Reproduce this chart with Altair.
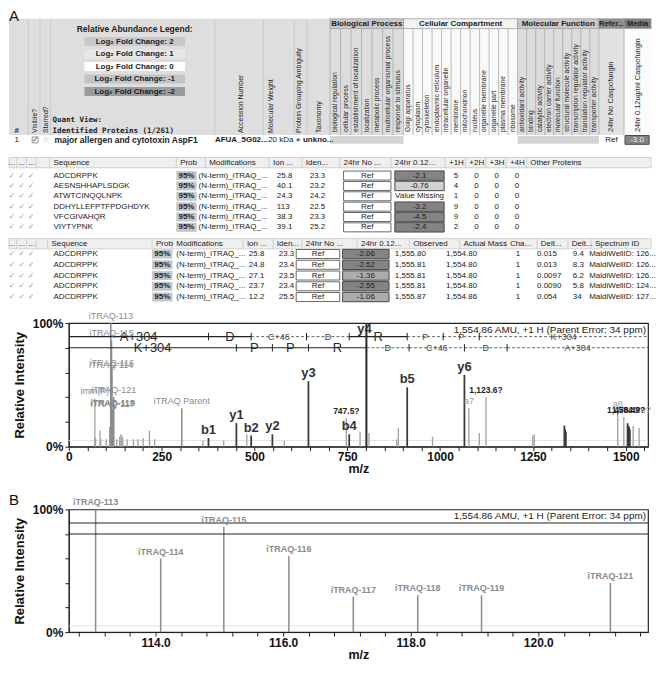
import altair as alt
import pandas as pd

FONT = "Liberation Sans"
SYM = "DejaVu Sans"

# ======================= DATA =======================
PANEL_A = "A"
PANEL_B = "B"
LEGEND_TITLE = "Relative Abundance Legend:"
LEGEND_LABELS = ["Log₂ Fold Change: 2", "Log₂ Fold Change: 1", "Log₂ Fold Change: 0",
                 "Log₂ Fold Change: -1", "Log₂ Fold Change: -2"]
QUANT_VIEW = ["Quant View:", "Identified Proteins (1/261)"]
LEFT_COLS = ["Visible?", "Starred?", "Accession Number", "Molecular Weight",
             "Protein Grouping Ambiguity", "Taxonomy"]
CATEGORIES = ["Biological Process", "Cellular Compartment", "Molecular Function", "Refer...", "Media"]
BP_TERMS = ["biological regulation", "cellular process", "establishment of localization",
            "localization", "metabolic process", "multicellular organismal process",
            "response to stimulus"]
CC_TERMS = ["Golgi apparatus", "cytoplasm", "cytoskeleton", "endoplasmic reticulum",
            "intracellular organelle", "membrane", "mitochondrion", "nucleus",
            "organelle membrane", "organelle part", "plasma membrane", "ribosome"]
MF_TERMS = ["antioxidant activity", "binding", "catalytic activity", "electron carrier activity",
            "molecular function", "structural molecule activity",
            "transcription regulator activity", "translation regulator activity",
            "transporter activity"]
SAMPLES = ["24hr No Caspofungin", "24hr 0.12ug/ml Caspofungin"]
PROTEIN_ROW = ["1", "major allergen and cytotoxin AspF1", "AFUA_5G02...", "20 kDa", "unkno...", "Ref"]
PROTEIN_RATIO = [-3.0]
PROTEIN_RATIO_TEXT = ["-3.0"]

PEP_HEADERS = ["...", "...", "...", "Sequence", "Prob", "Modifications", "Ion ...", "Iden...",
               "24hr No ...", "24hr 0.12...", "+1H", "+2H", "+3H", "+4H", "Other Proteins"]
PEP_SEQ = ["ADCDRPPK", "AESNSHHAPLSDGK", "ATWTCINQQLNPK", "DDHYLLEFPTFPDGHDYK", "VFCGIVAHQR", "VIYTYPNK"]
PEP_PROB = ["95%", "95%", "95%", "95%", "95%", "95%"]
PEP_MOD = ["(N-term)_iTRAQ_..."] * 6
PEP_ION = ["25.8", "40.1", "24.3", "113", "38.3", "39.1"]
PEP_IDEN = ["23.3", "23.2", "24.2", "22.5", "23.3", "25.2"]
PEP_REF = ["Ref"] * 6
PEP_RATIO = [-2.1, -0.76, None, -3.2, -4.5, -2.4]
PEP_RATIO_TEXT = ["-2.1", "-0.76", "Value Missing", "-3.2", "-4.5", "-2.4"]
PEP_1H = ["5", "4", "1", "9", "9", "2"]
PEP_2H = ["0", "0", "0", "0", "0", "0"]
PEP_3H = ["0", "0", "0", "0", "0", "0"]
PEP_4H = ["0", "0", "0", "0", "0", "0"]

SPEC_HEADERS = ["...", "...", "...", "Sequence", "Prob", "Modifications", "Ion ...", "Iden...",
                "24hr No ...", "24hr 0.12...", "Observed", "Actual Mass", "Cha...", "Delt...",
                "Delt...", "Spectrum ID"]
SPEC_SEQ = ["ADCDRPPK"] * 5
SPEC_PROB = ["95%"] * 5
SPEC_MOD = ["(N-term)_iTRAQ_..."] * 5
SPEC_ION = ["25.8", "24.8", "27.1", "23.7", "12.2"]
SPEC_IDEN = ["23.3", "23.4", "23.5", "23.4", "25.5"]
SPEC_REF = ["Ref"] * 5
SPEC_RATIO = [-2.06, -2.52, -1.36, -2.55, -1.06]
SPEC_RATIO_TEXT = ["-2.06", "-2.52", "-1.36", "-2.55", "-1.06"]
SPEC_OBS = ["1,555.80", "1,555.81", "1,555.81", "1,555.81", "1,555.87"]
SPEC_ACT = ["1,554.80", "1,554.80", "1,554.80", "1,554.80", "1,554.86"]
SPEC_CHARGE = ["1", "1", "1", "1", "1"]
SPEC_DELTA = ["0.015", "0.013", "0.0097", "0.0090", "0.054"]
SPEC_PPM = ["9.4", "8.3", "6.2", "5.8", "34"]
SPEC_ID = ["MaldiWellID: 126...", "MaldiWellID: 126...", "MaldiWellID: 126...",
           "MaldiWellID: 124...", "MaldiWellID: 127..."]

# ---- Spectrum A (full MS/MS spectrum) ----
A_MZ = [70.1, 72.0, 84.0, 86.1, 101.1, 110.1, 113.06, 114.08, 115.07, 116.09, 117.10, 118.11,
        119.11, 121.13, 129.1, 137.0, 140.1, 143.1, 145.1, 157.1, 174.1, 186.1, 200.1, 217.1,
        231.1, 304.2, 361.2, 376.2, 417.2, 451.3, 479.3, 491.2, 548.3, 580.3, 645.4, 747.5,
        755.3, 784.4, 801.5, 808.4, 883.4, 887.5, 911.4, 979.5, 1065.5, 1077.5, 1105.5, 1123.6,
        1249.6, 1253.6, 1334.7, 1336.7, 1338.7, 1478.4, 1494.8, 1504.9, 1507.0, 1509.0, 1511.0,
        1520.0, 1536.0]
A_INT = [0.39, 0.07, 0.13, 0.06, 0.06, 0.16, 1.00, 0.60, 0.86, 0.62, 0.29, 0.30,
         0.30, 0.40, 0.06, 0.08, 0.10, 0.09, 0.07, 0.06, 0.06, 0.06, 0.07, 0.13,
         0.06, 0.31, 0.05, 0.07, 0.05, 0.19, 0.10, 0.09, 0.10, 0.05, 0.53, 0.23,
         0.10, 0.12, 1.00, 0.11, 0.06, 0.15, 0.48, 0.08, 0.58, 0.31, 0.11, 0.40,
         0.09, 0.10, 0.17, 0.14, 0.12, 0.29, 0.24, 0.19, 0.17, 0.16, 0.14,
         0.17, 0.15]
A_KIND = ["other", "other", "other", "other", "other", "other", "rep", "rep", "rep", "rep", "rep", "rep",
          "rep", "rep", "other", "other", "other", "other", "other", "other", "other", "other", "other", "other",
          "other", "rep", "other", "ion", "other", "ion", "other", "ion", "ion", "other", "ion", "other",
          "ion", "other", "base", "other", "other", "other", "ion", "other", "ion", "other", "other", "other",
          "other", "other", "ion", "ion", "ion", "other", "other", "ion", "ion", "ion", "ion",
          "other", "other"]

LA_MZ = [113.06, 115.07, 114.08, 116.09, 121.13, 70.1, 117.10, 118.11, 119.11, 304.2,
         376.2, 451.3, 491.2, 548.3, 645.4, 747.5, 755.3, 801.5, 911.4, 1065.5, 1077.5, 1123.6,
         1478.4, 1494.8, 1507.0, 1520.0]
LA_INT = [1.00, 0.86, 0.60, 0.62, 0.40, 0.39, 0.29, 0.30, 0.30, 0.31,
          0.07, 0.19, 0.09, 0.10, 0.53, 0.23, 0.10, 1.00, 0.48, 0.58, 0.31, 0.40,
          0.29, 0.24, 0.24, 0.24]
LA_TEXT = ["iTRAQ-113", "iTRAQ-115", "iTRAQ-114", "iTRAQ-116", "iTRAQ-121", "imm(P)", "iTRAQ-117",
           "iTRAQ-118", "iTRAQ-119", "iTRAQ Parent",
           "b1", "y1", "b2", "y2", "y3", "747.5?", "b4", "y4", "b5", "y6", "a7", "1,123.6?",
           "a8", "1,478.4?", "1,504.9?", "1,520.0?"]
LA_STYLE = ["rep", "rep", "rep", "rep", "rep", "rep", "rep", "rep", "rep", "rep",
            "ion", "ion", "ion", "ion", "ion", "q", "ion", "iontop", "ion", "ion", "minor", "q",
            "minor", "q", "q", "minor"]

PARENT_TEXT = "1,554.86 AMU, +1 H (Parent Error: 34 ppm)"
# b-ion ladder (row 1) and y-ion ladder (row 2): m/z boundaries and residues
B_START = [0, 376.2, 491.2, 640.2, 755.3, 911.4, 1008.4, 1105.5]
B_END = [376.2, 491.2, 640.2, 755.3, 911.4, 1008.4, 1105.5, 1560]
B_RES = ["A+304", "D", "C+46", "D", "R", "P", "P", "K+304"]
B_SEEN = [True, True, False, False, True, False, False, False]
Y_START = [0, 451.3, 548.3, 645.4, 801.5, 916.5, 1065.5, 1180.5]
Y_END = [451.3, 548.3, 645.4, 801.5, 916.5, 1065.5, 1180.5, 1560]
Y_RES = ["K+304", "P", "P", "R", "D", "C+46", "D", "A+304"]
Y_SEEN = [True, True, True, True, False, False, False, False]

# ---- Spectrum B (iTRAQ reporter region) ----
B_MZ = [113.06, 114.08, 115.07, 116.09, 117.10, 118.11, 119.11, 121.13]
B_INT = [1.00, 0.60, 0.86, 0.62, 0.29, 0.30, 0.30, 0.40]
B_LABEL = ["iTRAQ-113", "iTRAQ-114", "iTRAQ-115", "iTRAQ-116", "iTRAQ-117", "iTRAQ-118",
           "iTRAQ-119", "iTRAQ-121"]

# ======================= TABLE (top of panel A) =======================
W = 581
H_TABLE = 252
H_A = 124
H_B = 123
GAP = 63
XS = alt.Scale(domain=[61.86, 660.82], nice=False, zero=False)
YS = alt.Scale(domain=[3, 3 + H_TABLE / 0.98], nice=False, zero=False, reverse=True)

texts, rects, rules, ratios = [], [], [], []


def T(x, y, t, size=8, color="#222", weight="normal", align="left", angle=0, font=FONT,
      baseline="middle"):
    texts.append(dict(x=x, y=y, t=t, size=size, color=color, weight=weight, align=align,
                      angle=angle, font=font, baseline=baseline))


def R(x, x2, y, y2, fill, stroke="transparent"):
    rects.append(dict(x=x, x2=x2, y=y, y2=y2, fill=fill, stroke=stroke))


def L(x, x2, y, y2, color="#c0c0c0"):
    rules.append(dict(x=x, x2=x2, y=y, y2=y2, color=color))


T(0, 3, PANEL_A, size=15, color="#111", baseline="top")

# --- protein header block ---
R(0, 332, 13, 132, "#dedede")
for xx in [20, 32, 43, 213, 263, 295, 308]:
    L(xx, xx, 13, 132, "#c4c4c4")
T(130, 23.5, LEGEND_TITLE, size=8.5, weight="bold", align="center")
legend_fill = ["#c9c9c9", "#e8e8e8", "#ffffff", "#c4c4c4", "#9b9b9b"]
for i, lab in enumerate(LEGEND_LABELS):
    cy = 36.3 + 12.8 * i
    R(78, 182, cy - 4.6, cy + 4.6, legend_fill[i])
    T(130, cy, lab, size=8, weight="bold", align="center")
T(8, 128, "#", weight="bold", align="center")
T(45, 117, QUANT_VIEW[0], size=7.5, weight="bold", font="DejaVu Sans Mono")
T(45, 127.5, QUANT_VIEW[1], size=7.5, weight="bold", font="DejaVu Sans Mono")
for xx, lab in zip([26.5, 38, 240, 271, 300, 321], LEFT_COLS):
    T(xx, 130, lab, size=7, angle=270)

cat_x = [(332, 408), (408, 526), (526, 610), (610, 636), (636, 664)]
cat_fill = ["#c8c8c8", "#f3f3f3", "#c8c8c8", "#8e8e8e", "#7e7e7e"]
body_fill = ["#dcdcdc", "#f9f9f9", "#dcdcdc", "#e2e2e2", "#fbfbfb"]
cat_size = [8, 8, 8, 7.5, 7.5]
for (x0, x1), name, cf, bf, cs in zip(cat_x, CATEGORIES, cat_fill, body_fill, cat_size):
    R(x0, x1, 23, 132, bf)
    R(x0, x1, 13, 23, cf, "#a0a0a0")
    T((x0 + x1) / 2, 18, name, size=cs, weight="bold", align="center")
for (x0, x1), terms in zip(cat_x[:3], [BP_TERMS, CC_TERMS, MF_TERMS]):
    w = (x1 - x0) / len(terms)
    for i, term in enumerate(terms):
        L(x0 + w * i, x0 + w * i, 23, 132, "#a8a8a8")
        T(x0 + w * (i + 0.5), 129, term, size=6.8, angle=270)
L(610, 610, 23, 132, "#a8a8a8")
L(636, 636, 23, 132, "#a8a8a8")
T(623, 129, SAMPLES[0], size=7.5, angle=270)
T(650, 129, SAMPLES[1], size=7.5, angle=270)

# protein row
T(8, 137, PROTEIN_ROW[0], align="center")
R(24, 30, 134, 140, "#ffffff", "#777777")
T(27, 137, "✓", size=7, color="#333", align="center", font=SYM)
T(38, 137, "☆", size=8, color="#aaa", align="center", font=SYM)
T(47, 137, PROTEIN_ROW[1], size=8.5, weight="bold")
T(213, 137, PROTEIN_ROW[2], weight="bold")
T(268, 137, PROTEIN_ROW[3])
T(299, 137, "★", size=7, color="#666", align="center", font=SYM)
T(304, 137, PROTEIN_ROW[4], weight="bold")
R(332, 408, 133, 141, "#d4d4d4")
R(526, 610, 133, 141, "#d4d4d4")
T(623, 137, PROTEIN_ROW[5], align="center")
ratios.append(dict(x=637, x2=662, y=132.5, y2=141.5, v=PROTEIN_RATIO[0]))
T(649.5, 137, PROTEIN_RATIO_TEXT[0], color="#f0f0f0", align="center")

# --- peptide table ---
p_hx = [3, 13, 23, 46, 177, 207, 273, 307, 346, 399, 455, 476, 497, 518, 539]
R(0, 664, 155, 165.5, "#efefef", "#c8c8c8")
for xx, lab in zip(p_hx, PEP_HEADERS):
    T(xx, 160.3, lab, align="center" if lab == "..." else "left")
    if lab != "...":
        L(xx - 4, xx - 4, 155, 165.5, "#c8c8c8")
for xx in [8, 18, 28]:
    L(xx, xx, 155, 165.5, "#c8c8c8")
PEP_Y = [173.5, 184.1, 194.7, 205.3, 215.9, 226.5]
for i, yy in enumerate(PEP_Y):
    for xx in [3, 13, 23]:
        T(xx, yy, "✓", size=7.5, color="#9a9a9a", align="center", font=SYM)
    T(46, yy, PEP_SEQ[i])
    R(173, 194, yy - 4.6, yy + 4.6, "#c6c6c6")
    T(183.5, yy, PEP_PROB[i], weight="bold", align="center")
    T(196, yy, PEP_MOD[i])
    T(277, yy, PEP_ION[i])
    T(311, yy, PEP_IDEN[i])
    R(346, 395, yy - 4.6, yy + 4.6, "#ffffff", "#444444")
    T(370.5, yy, PEP_REF[i], align="center")
    ratios.append(dict(x=399, x2=450, y=yy - 4.8, y2=yy + 4.8, v=PEP_RATIO[i]))
    T(424.5, yy, PEP_RATIO_TEXT[i], align="center")
    for xx, col in zip([460, 481, 502, 523], [PEP_1H, PEP_2H, PEP_3H, PEP_4H]):
        T(xx, yy, col[i])

# --- spectrum table ---
s_hx = [3, 13, 23, 44, 152, 173, 246, 277, 307, 364, 418, 470, 518, 550, 582, 606]
R(0, 664, 238, 248.5, "#efefef", "#c8c8c8")
for xx, lab in zip(s_hx, SPEC_HEADERS):
    T(xx, 243.3, lab, align="center" if lab == "..." else "left")
    if lab != "...":
        L(xx - 4, xx - 4, 238, 248.5, "#c8c8c8")
for xx in [8, 18, 28]:
    L(xx, xx, 238, 248.5, "#c8c8c8")
SPEC_Y = [253.8, 264.8, 275.8, 286.8, 297.8]
for i, yy in enumerate(SPEC_Y):
    for xx in [3, 13, 23]:
        T(xx, yy, "✓", size=7.5, color="#9a9a9a", align="center", font=SYM)
    T(46, yy, SPEC_SEQ[i])
    R(148, 169, yy - 4.6, yy + 4.6, "#c6c6c6")
    T(158.5, yy, SPEC_PROB[i], weight="bold", align="center")
    T(173, yy, SPEC_MOD[i])
    T(248, yy, SPEC_ION[i])
    T(279, yy, SPEC_IDEN[i])
    R(297, 342, yy - 4.6, yy + 4.6, "#ffffff", "#444444")
    T(319.5, yy, SPEC_REF[i], align="center")
    ratios.append(dict(x=345, x2=393, y=yy - 4.8, y2=yy + 4.8, v=SPEC_RATIO[i]))
    T(369, yy, SPEC_RATIO_TEXT[i], align="center")
    T(399, yy, SPEC_OBS[i])
    T(452, yy, SPEC_ACT[i])
    T(524, yy, SPEC_CHARGE[i])
    T(546, yy, SPEC_DELTA[i])
    T(583, yy, SPEC_PPM[i])
    T(600, yy, SPEC_ID[i])


def tx(field="x"):
    return alt.X(f"{field}:Q", scale=XS, axis=None)


def ty(field="y"):
    return alt.Y(f"{field}:Q", scale=YS, axis=None)


rect_df = pd.DataFrame(rects)
rect_layer = alt.Chart(rect_df).mark_rect(strokeWidth=0.8).encode(
    x=tx(), x2="x2:Q", y=ty(), y2="y2:Q",
    fill=alt.Fill("fill:N", scale=None), stroke=alt.Stroke("stroke:N", scale=None))
ratio_df = pd.DataFrame(ratios)
ratio_layer = alt.Chart(ratio_df).mark_rect(stroke="#4a4a4a", strokeWidth=1).encode(
    x=tx(), x2="x2:Q", y=ty(), y2="y2:Q",
    fill=alt.condition("isValid(datum.v)",
                       alt.Fill("v:Q", scale=alt.Scale(type="threshold", domain=[-2, -1],
                                                       range=["#848484", "#acacac", "#d2d2d2"]),
                                legend=None),
                       alt.value("#9c9c9c")))
rule_df = pd.DataFrame(rules)
rule_layer = alt.Chart(rule_df).mark_rule(strokeWidth=0.8).encode(
    x=tx(), x2="x2:Q", y=ty(), y2="y2:Q", color=alt.Color("color:N", scale=None))

tdf = pd.DataFrame(texts)
text_layers = []
for (wgt, al, ang, fnt, bl), g in tdf.groupby(["weight", "align", "angle", "font", "baseline"]):
    text_layers.append(
        alt.Chart(g.reset_index(drop=True)).mark_text(
            fontWeight=str(wgt), align=str(al), angle=int(ang), font=str(fnt), baseline=str(bl)
        ).encode(x=tx(), y=ty(), text="t:N",
                 size=alt.Size("size:Q", scale=None),
                 color=alt.Color("color:N", scale=None)))

table = alt.layer(rect_layer, rule_layer, ratio_layer, *text_layers).properties(
    width=W, height=H_TABLE)


# ======================= SPECTRA =======================
def axis_x(vals, lexpr):
    return alt.Axis(values=vals, labelExpr=lexpr, title="m/z", grid=False,
                    labelFont=FONT, labelFontSize=12, labelFontWeight="bold", labelColor="#111",
                    titleFont=FONT, titleFontSize=12.5, titleFontWeight="bold", titleColor="#111",
                    tickSize=4, tickColor="#222", domainColor="#222", labelPadding=1,
                    titlePadding=0, labelOverlap=False, labelFlush=False)


AXIS_Y = alt.Axis(values=[0, 0.2, 0.4, 0.6, 0.8, 1.0],
                  labelExpr="datum.value == 0 ? '0%' : (datum.value == 1 ? '100%' : '')",
                  title="Relative Intensity", grid=False,
                  labelFont=FONT, labelFontSize=12, labelFontWeight="bold", labelColor="#111",
                  titleFont=FONT, titleFontSize=13, titleFontWeight="bold", titleColor="#111",
                  tickSize=4, tickColor="#222", domainColor="#222", labelPadding=2,
                  titlePadding=6, labelOverlap=False, labelFlush=False)


def make_spectrum(mz, inten, kind, labels, dom, xvals, lexpr, height, ladder, letter):
    def X(field):
        return alt.X(f"{field}:Q", scale=alt.Scale(domain=dom, nice=False, zero=False),
                     axis=axis_x(xvals, lexpr))

    def Y(field):
        return alt.Y(f"{field}:Q", scale=alt.Scale(domain=[0, 1], nice=False, zero=False),
                     axis=AXIS_Y)

    layers = []
    thr = pd.DataFrame({"mz": [dom[0]], "mz2": [dom[1]], "lvl": [0.05]})
    layers.append(alt.Chart(thr).mark_rule(color="#d6d6d6", strokeWidth=1, strokeDash=[2, 1]).encode(
        x=X("mz"), x2="mz2:Q", y=Y("lvl")))
    pk = pd.DataFrame({"mz": mz, "inten": inten, "kind": kind, "base": [0] * len(mz)})
    layers.append(alt.Chart(pk).mark_rule().encode(
        x=X("mz"), y=Y("inten"), y2="base:Q",
        color=alt.Color("kind:N", scale=alt.Scale(domain=["base", "ion", "rep", "other"],
                                                  range=["#2a2a2a", "#3a3a3a", "#8c8c8c", "#a0a0a0"]),
                        legend=None),
        strokeWidth=alt.StrokeWidth("kind:N", scale=alt.Scale(domain=["base", "ion", "rep", "other"],
                                                              range=[2.0, 1.3, 1.1, 1.0]),
                                    legend=None)))
    rows = pd.DataFrame({"mz": [dom[0], dom[0]], "mz2": [dom[1], dom[1]], "lvl": [0.89, 0.80]})
    if ladder is None:
        layers.append(alt.Chart(rows).mark_rule(color="#222", strokeWidth=1.1).encode(
            x=X("mz"), x2="mz2:Q", y=Y("lvl")))
    else:
        segs = []
        for lvl, (st, en, res, seen) in ladder:
            for a, b, r, s in zip(st, en, res, seen):
                segs.append(dict(mz=a, mz2=b, lvl=lvl, res=r, seen=s,
                                 mid=(a + b) / 2, lo=lvl - 0.03, hi=lvl + 0.03))
        sdf = pd.DataFrame(segs)
        solid = sdf[sdf.seen].reset_index(drop=True)
        dashed = sdf[~sdf.seen].reset_index(drop=True)
        layers.append(alt.Chart(solid).mark_rule(color="#222", strokeWidth=1.1).encode(
            x=X("mz"), x2="mz2:Q", y=Y("lvl")))
        layers.append(alt.Chart(dashed).mark_rule(color="#555", strokeWidth=0.9, strokeDash=[3, 2]).encode(
            x=X("mz"), x2="mz2:Q", y=Y("lvl")))
        ticks = sdf[sdf.mz > dom[0]].reset_index(drop=True)
        layers.append(alt.Chart(ticks).mark_rule(color="#222", strokeWidth=1).encode(
            x=X("mz"), y=Y("lo"), y2="hi:Q"))
        layers.append(alt.Chart(solid).mark_text(font=FONT, fontSize=13, color="#2a2a2a",
                                                 baseline="middle").encode(
            x=X("mid"), y=Y("lvl"), text="res:N"))
        layers.append(alt.Chart(dashed).mark_text(font=FONT, fontSize=9, color="#444",
                                                  baseline="middle").encode(
            x=X("mid"), y=Y("lvl"), text="res:N"))
    ptxt = pd.DataFrame({"t": [PARENT_TEXT], "lvl": [0.945]})
    layers.append(alt.Chart(ptxt).mark_text(font=FONT, fontSize=10, color="#222", align="right",
                                            baseline="middle").encode(
        x=alt.value(W - 2), y=Y("lvl"), text="t:N"))
    lab = pd.DataFrame(labels)
    styles = {
        "ion": dict(fontSize=13, fontWeight="bold", color="#333", baseline="bottom", dy=-1),
        "iontop": dict(fontSize=13, fontWeight="bold", color="#333", baseline="top", dy=0, dx=-2),
        "rep": dict(fontSize=9, fontWeight="normal", color="#8a8a8a", baseline="bottom", dy=-2),
        "repb": dict(fontSize=9, fontWeight="bold", color="#8c8c8c", baseline="bottom", dy=-2),
        "q": dict(fontSize=8.5, fontWeight="bold", color="#222", baseline="bottom", dy=-2),
        "minor": dict(fontSize=9, fontWeight="normal", color="#9a9a9a", baseline="bottom", dy=-2),
    }
    for st, g in lab.groupby("style"):
        layers.append(alt.Chart(g.reset_index(drop=True)).mark_text(font=FONT, **styles[st]).encode(
            x=X("mz"), y=Y("inten"), text="t:N"))
    if letter is not None:
        layers.append(alt.Chart(pd.DataFrame({"t": [letter]})).mark_text(
            font=FONT, fontSize=15, color="#111", align="left", baseline="bottom").encode(
            x=alt.value(-60), y=alt.value(-1), text="t:N"))
    return alt.layer(*layers).properties(
        width=W, height=height, view=alt.ViewBackground(stroke="#222", strokeWidth=1.2))


labels_a = {"mz": LA_MZ, "inten": LA_INT, "t": LA_TEXT, "style": LA_STYLE}
spec_a = make_spectrum(A_MZ, A_INT, A_KIND, labels_a, [0, 1560],
                       list(range(0, 1551, 50)),
                       "datum.value % 250 == 0 ? format(datum.value, 'd') : ''",
                       H_A,
                       [(0.89, (B_START, B_END, B_RES, B_SEEN)), (0.80, (Y_START, Y_END, Y_RES, Y_SEEN))],
                       None)
labels_b = {"mz": B_MZ, "inten": B_INT, "t": B_LABEL, "style": ["repb"] * len(B_MZ)}
spec_b = make_spectrum(B_MZ, B_INT, ["rep"] * len(B_MZ), labels_b, [112.64, 121.72],
                       [round(112.8 + 0.4 * i, 1) for i in range(23)],
                       "abs(datum.value / 2 - round(datum.value / 2)) < 0.001 ? format(datum.value, '.1f') : ''",
                       H_B, None, PANEL_B)

chart = alt.vconcat(table, spec_a, spec_b, spacing=GAP, bounds="flush").properties(
    padding=0).configure_view(strokeWidth=0)

chart.save("out.html", embed_options={"renderer": "svg", "actions": False})
